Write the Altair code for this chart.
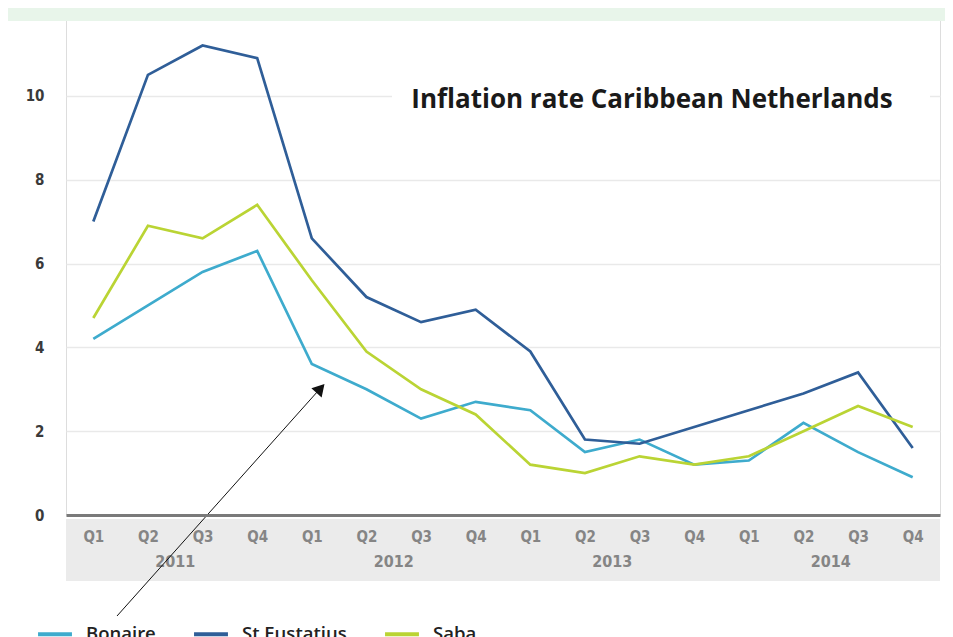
import altair as alt
import pandas as pd

title_text = "Inflation rate Caribbean Netherlands"
years = ["2011"] * 4 + ["2012"] * 4 + ["2013"] * 4 + ["2014"] * 4
quarters = ["Q1", "Q2", "Q3", "Q4"] * 4
series_names = ["Bonaire", "St Eustatius", "Saba"]
series_colors = ["#3eabcd", "#2f5e98", "#bad434"]
bonaire = [4.2, 5.0, 5.8, 6.3, 3.6, 3.0, 2.3, 2.7, 2.5, 1.5, 1.8, 1.2, 1.3, 2.2, 1.5, 0.9]
eustatius = [7.0, 10.5, 11.2, 10.9, 6.6, 5.2, 4.6, 4.9, 3.9, 1.8, 1.7, 2.1, 2.5, 2.9, 3.4, 1.6]
saba = [4.7, 6.9, 6.6, 7.4, 5.6, 3.9, 3.0, 2.4, 1.2, 1.0, 1.4, 1.2, 1.4, 2.0, 2.6, 2.1]
y_ticks = [0, 2, 4, 6, 8, 10, 12]

W, H = 874, 503
label_font = "Liberation Sans Narrow, DejaVu Sans Condensed, Liberation Sans, sans-serif"

rows = []
for name, vals in zip(series_names, [bonaire, eustatius, saba]):
    for i, v in enumerate(vals):
        rows.append({"region": name, "idx": i, "value": v, "year": years[i], "quarter": quarters[i]})
df = pd.DataFrame(rows)
df_periods = pd.DataFrame({"idx": list(range(len(years))), "year": years, "quarter": quarters})
one = pd.DataFrame({"a": [0]})

q_expr = "[" + ",".join("'%s'" % q for q in quarters) + "][datum.value]"

x_scale = alt.Scale(domain=[-0.5, len(years) - 0.5], nice=False, zero=False)

# grey band behind x labels
band = alt.Chart(one).mark_rect(color="#ebebeb").encode(
    x=alt.value(0), x2=alt.value(W), y=alt.value(H + 4), y2=alt.value(H + 66)
)

# white box behind title
title_box = alt.Chart(one).mark_rect(color="white").encode(
    x=alt.value(326), x2=alt.value(864), y=alt.value(70), y2=alt.value(106)
)

lines = alt.Chart(df).mark_line(strokeWidth=2.7).encode(
    x=alt.X("idx:Q", scale=x_scale,
            axis=alt.Axis(values=list(range(len(years))), labelExpr=q_expr, grid=False, ticks=False,
                          domainColor="#7a7a7a", domainWidth=3, labelPadding=14, labelFontSize=15,
                          labelFontWeight="bold",
                          labelColor="#858585", labelFont=label_font, title=None, zindex=1)),
    y=alt.Y("value:Q", scale=alt.Scale(domain=[0, 12], nice=False),
            axis=alt.Axis(values=y_ticks, grid=True, gridColor="#e9e9e9", gridWidth=1.5, domain=False,
                          ticks=False, labelPadding=22, labelFontSize=15, labelFontWeight="bold",
                          labelColor="#3a3a3a", labelFont="DejaVu Sans Condensed, DejaVu Sans", title=None)),
    color=alt.Color("region:N", scale=alt.Scale(domain=series_names, range=series_colors),
                    legend=alt.Legend(orient="none", legendX=-30, legendY=603, direction="horizontal",
                                      symbolType="stroke", symbolSize=1150, symbolStrokeWidth=4,
                                      labelFontSize=18.5, labelFont="Open Sans", labelColor="#222222",
                                      labelFontWeight=600,
                                      labelOffset=12, columnPadding=30, title=None)),
    detail="region:N",
)

year_labels = alt.Chart(df_periods).mark_text(
    fontSize=16, fontWeight="bold", color="#858585", font=label_font
).encode(x=alt.X("mean(idx):Q", scale=x_scale), text="year:N", y=alt.value(550))

title = alt.Chart(pd.DataFrame({"t": [title_text]})).mark_text(
    fontSize=26, fontWeight="bold", font="Open Sans", color="#1a1a1a"
).encode(text="t:N", x=alt.value(586), y=alt.value(88))

arrow_line = alt.Chart(one).mark_rule(color="#111111", strokeWidth=1).encode(
    x=alt.value(51), y=alt.value(604), x2=alt.value(252), y2=alt.value(379)
)
arrow_head = alt.Chart(one).mark_point(shape="triangle-up", filled=True, size=190, angle=42,
                                       color="#111111", opacity=1).encode(
    x=alt.value(254.5), y=alt.value(376.5)
)

top_band = alt.Chart(one).mark_rect(color="#e8f5ea").encode(
    x=alt.value(-58), x2=alt.value(W + 5), y=alt.value(-4), y2=alt.value(9)
)

chart = alt.layer(band, title_box, lines, year_labels, title, arrow_line, arrow_head, top_band).properties(
    width=W, height=H,
    autosize=alt.AutoSizeParams(type="none"),
    padding={"left": 58, "top": 4, "right": 5, "bottom": 130},
).configure_view(stroke="transparent", strokeWidth=0).configure(background="white")

chart.save("out.html", embed_options={"renderer": "svg", "actions": False})
